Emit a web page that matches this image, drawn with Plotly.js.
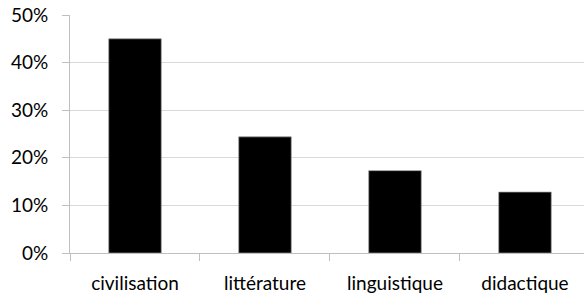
<!DOCTYPE html>
<html>
<head>
<meta charset="utf-8">
<script src="https://cdn.plot.ly/plotly-3.0.1.min.js"></script>
<style>html,body{margin:0;padding:0;background:#fff;}#chart{width:584px;height:296px;}</style>
</head>
<body>
<div id="chart"></div>
<script>
const categories = ["civilisation", "littérature", "linguistique", "didactique"];
const shares = [45, 24.4, 17.3, 12.8];
const yTicks = [0, 10, 20, 30, 40, 50];

const trace = {
  type: "bar",
  x: categories,
  y: shares,
  marker: { color: "#000000", line: { color: "#9a9a9a", width: 0.7 } },
  hoverinfo: "none"
};

const layout = {
  width: 584,
  height: 296,
  margin: { l: 70, r: 0, t: 15, b: 43 },
  paper_bgcolor: "#ffffff",
  plot_bgcolor: "#ffffff",
  showlegend: false,
  bargap: 0.596,
  font: { family: "Lato, 'Open Sans', sans-serif", size: 19, color: "#000000" },
  xaxis: {
    type: "category",
    range: [-0.5, 3.454],
    tickson: "boundaries",
    ticks: "outside",
    ticklen: 7,
    tickcolor: "#bfbfbf",
    showline: true,
    linecolor: "#bfbfbf",
    linewidth: 1,
    showgrid: false,
    ticklabelstandoff: 13,
    tickfont: { size: 19 },
    fixedrange: true
  },
  yaxis: {
    range: [0, 50],
    tickvals: yTicks,
    ticktext: yTicks.map(v => v + "%"),
    ticks: "outside",
    ticklen: 7,
    tickcolor: "#bfbfbf",
    showline: true,
    linecolor: "#bfbfbf",
    linewidth: 1,
    showgrid: true,
    gridcolor: "#d9d9d9",
    gridwidth: 1,
    zeroline: false,
    ticklabelstandoff: 10,
    tickfont: { size: 19 },
    fixedrange: true
  }
};

Plotly.newPlot("chart", [trace], layout, { displayModeBar: false, staticPlot: true });
</script>
</body>
</html>
